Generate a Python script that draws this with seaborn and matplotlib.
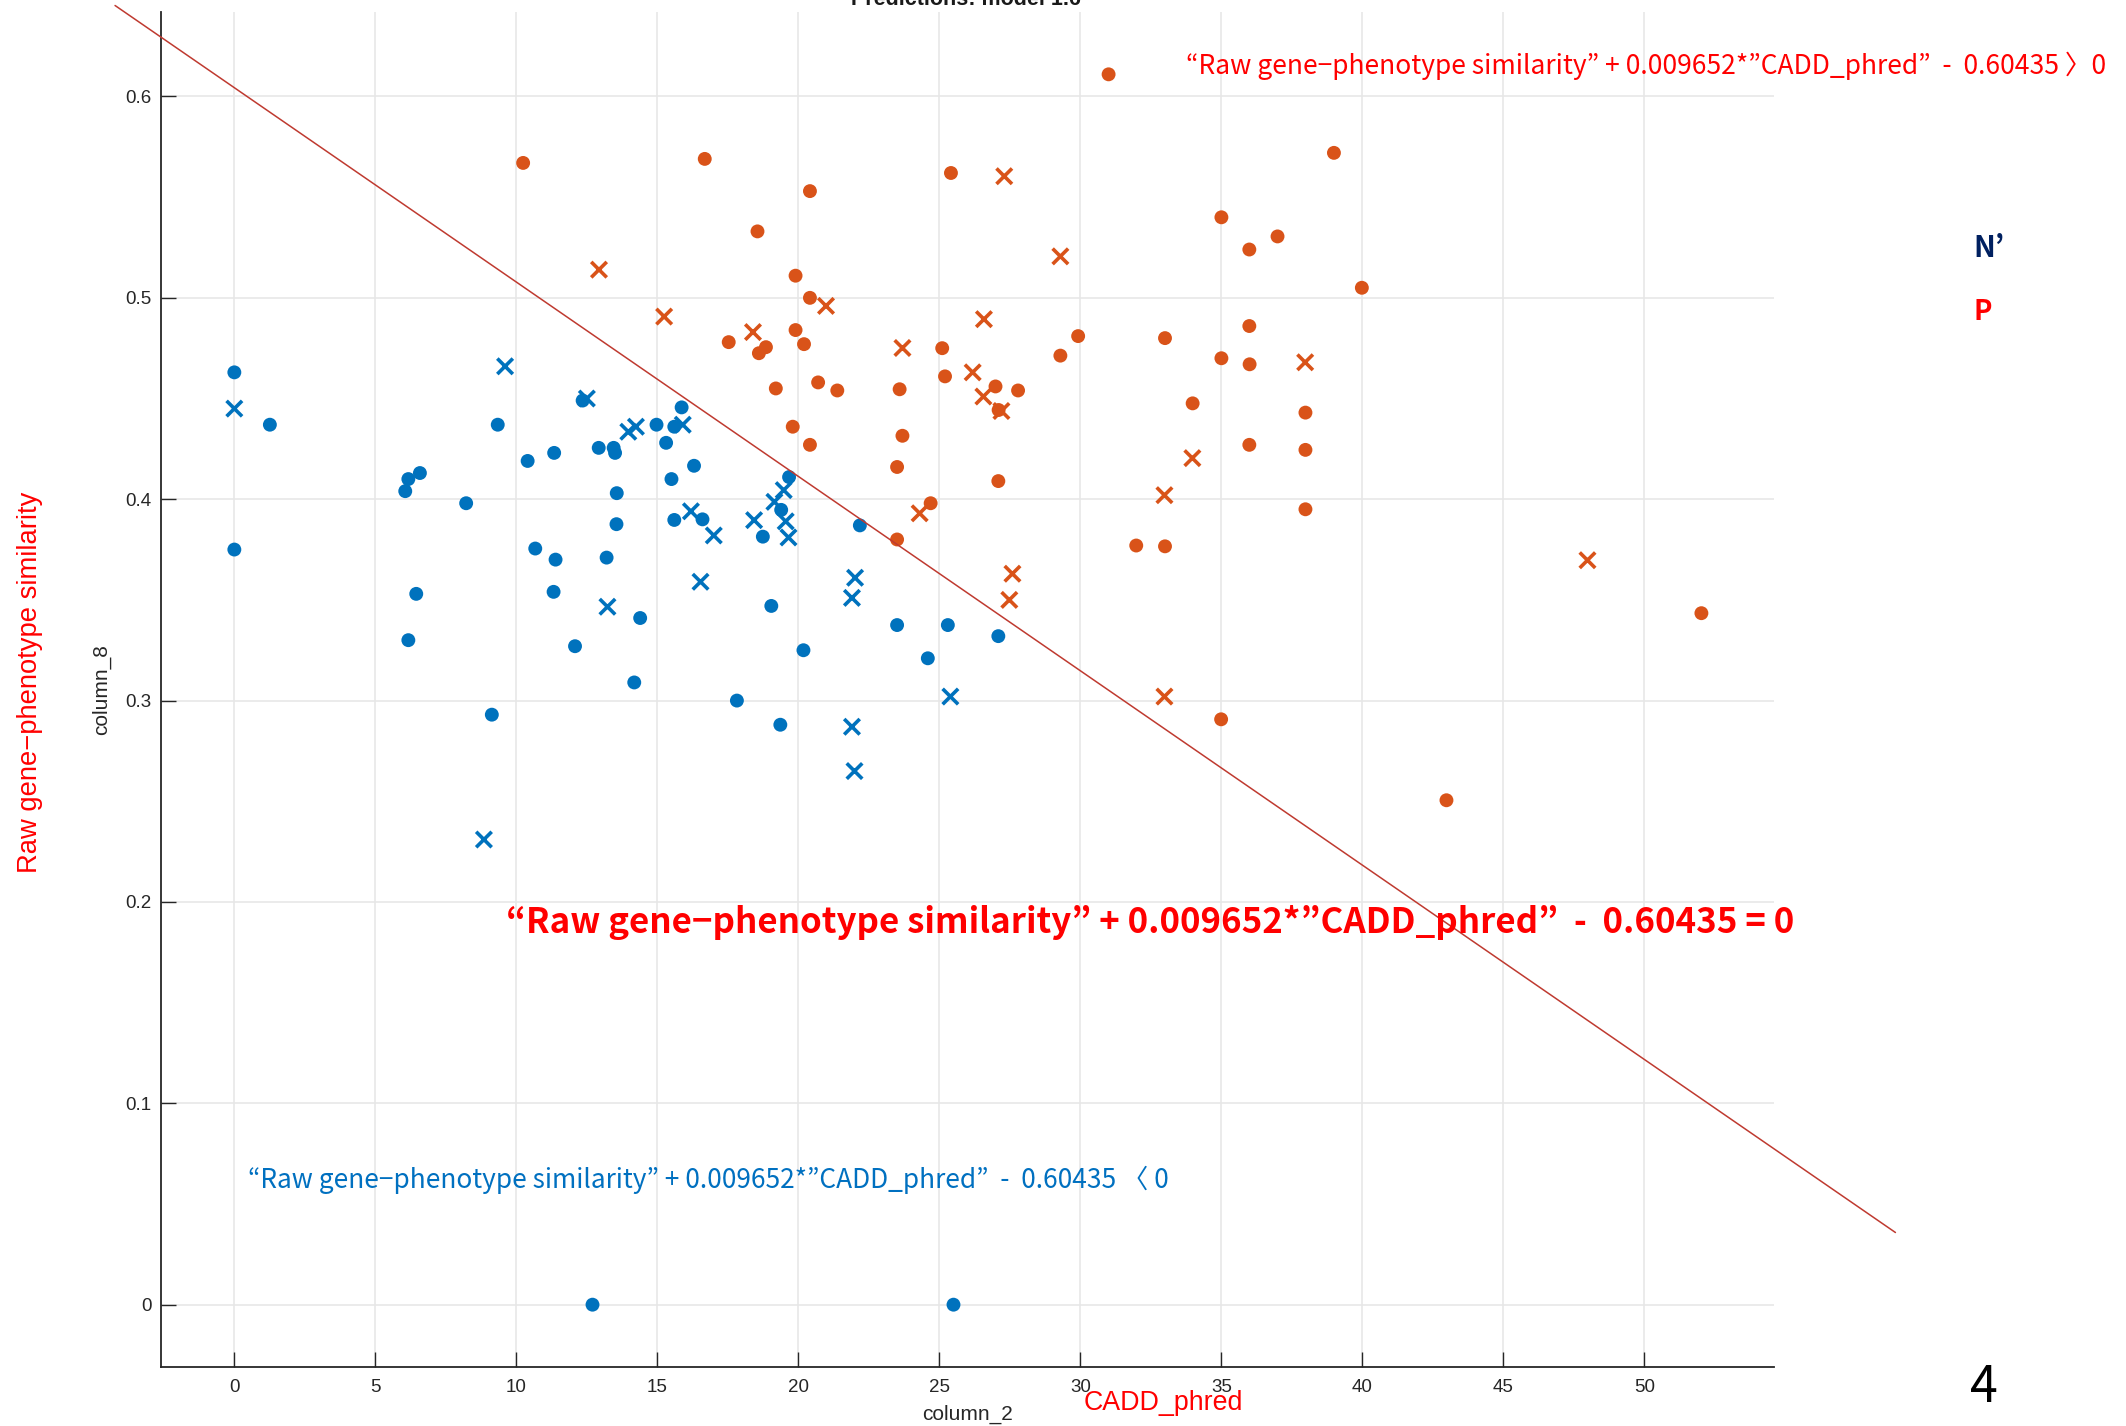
import numpy as np
import pandas as pd
import matplotlib
matplotlib.use("Agg")
import matplotlib.pyplot as plt
import seaborn as sns

# ---------------- data ----------------
# class N' (blue) - correctly predicted (dots)
n_ok_cadd = [0, 1.26, 9.34, 6.58, 6.17, 6.06, 8.22, 0, 10.4, 11.34, 12.35, 12.92, 13.45, 13.5,
             14.97, 15.6, 15.86, 15.31, 16.3, 15.5, 13.56, 13.55, 15.6, 16.6, 19.39, 19.67, 18.74,
             10.67, 11.39, 13.2, 11.32, 14.39, 19.04, 6.45, 6.17, 12.08, 20.18, 14.18, 17.82,
             19.36, 9.13, 22.18, 23.5, 25.3, 27.09, 24.59, 12.7, 25.5]
n_ok_sim = [0.463, 0.437, 0.437, 0.413, 0.410, 0.404, 0.398, 0.375, 0.419, 0.423, 0.449, 0.4255,
            0.4255, 0.423, 0.437, 0.436, 0.4456, 0.428, 0.4166, 0.410, 0.403, 0.3876, 0.3897,
            0.390, 0.3947, 0.411, 0.3814, 0.3755, 0.370, 0.371, 0.354, 0.341, 0.347, 0.353,
            0.330, 0.327, 0.325, 0.309, 0.300, 0.288, 0.293, 0.387, 0.3375, 0.3375, 0.332,
            0.321, 0.0, 0.0]
# class N' (blue) - incorrectly predicted (crosses)
n_bad_cadd = [0, 9.6, 12.5, 13.97, 14.24, 15.9, 16.19, 17.0, 18.43, 19.15, 19.48, 19.55, 19.65,
              13.23, 16.53, 8.85, 22.01, 21.9, 25.39, 21.9, 21.99]
n_bad_sim = [0.445, 0.466, 0.450, 0.4335, 0.436, 0.437, 0.394, 0.382, 0.3896, 0.3987, 0.4045,
             0.389, 0.381, 0.3466, 0.359, 0.231, 0.361, 0.351, 0.302, 0.287, 0.265]
# class P (orange) - correctly predicted (dots)
p_ok_cadd = [10.24, 16.68, 25.41, 20.41, 18.55, 19.9, 20.41, 19.9, 17.53, 18.85, 18.6, 20.2,
             25.1, 29.92, 29.29, 38.99, 35.0, 36.99, 35.99, 39.98, 35.99, 33.0, 35.0, 36.0,
             31.0, 19.2, 19.8, 20.7, 21.38, 23.59, 25.2, 26.99, 27.79, 27.1, 33.98, 37.98,
             20.41, 23.69, 23.5, 35.99, 37.98, 27.09, 24.69, 23.5, 37.98, 31.98, 33.0, 34.99,
             42.98, 52.02]
p_ok_sim = [0.567, 0.569, 0.562, 0.553, 0.533, 0.511, 0.500, 0.484, 0.478, 0.4755, 0.4725,
            0.477, 0.475, 0.481, 0.4713, 0.572, 0.540, 0.5305, 0.524, 0.505, 0.486, 0.480,
            0.470, 0.467, 0.611, 0.455, 0.436, 0.458, 0.454, 0.4546, 0.461, 0.456, 0.454,
            0.4443, 0.4476, 0.443, 0.427, 0.4315, 0.416, 0.427, 0.4245, 0.409, 0.398, 0.380,
            0.395, 0.377, 0.3766, 0.2907, 0.2505, 0.3434]
# class P (orange) - incorrectly predicted (crosses)
p_bad_cadd = [27.3, 12.93, 29.29, 20.98, 15.24, 26.58, 18.39, 23.69, 37.97, 26.18, 26.56, 27.2,
              33.97, 24.3, 32.98, 27.59, 27.48, 32.98, 47.98]
p_bad_sim = [0.5604, 0.514, 0.5206, 0.496, 0.4907, 0.4894, 0.483, 0.4751, 0.468, 0.463, 0.451,
             0.4438, 0.4204, 0.393, 0.402, 0.363, 0.350, 0.302, 0.3697]

# decision boundary: sim + slope*cadd - intercept = 0
bound_slope = 0.009652
bound_intercept = 0.60435
bound_cadd_ends = [-4.23, 58.9]

x_ticks = [0, 5, 10, 15, 20, 25, 30, 35, 40, 45, 50]
y_ticks = [0, 0.1, 0.2, 0.3, 0.4, 0.5, 0.6]
y_ticklabels = ["0", "0.1", "0.2", "0.3", "0.4", "0.5", "0.6"]

title = "Predictions: model 1.6"
eq_pos = "“Raw gene\u2212phenotype similarity” + 0.009652*”CADD_phred”  -  0.60435 \u30090"
eq_zero = "“Raw gene\u2212phenotype similarity” + 0.009652*”CADD_phred”  -  0.60435 = 0"
eq_neg = "“Raw gene\u2212phenotype similarity” + 0.009652*”CADD_phred”  -  0.60435 \u3008 0"

# ---------------- frame ----------------
def frame(cadd, sim, cls, res):
    return pd.DataFrame({"CADD": cadd, "sim": sim, "cls": cls, "res": res})

df = pd.concat([
    frame(n_ok_cadd, n_ok_sim, "N'", "ok"),
    frame(n_bad_cadd, n_bad_sim, "N'", "bad"),
    frame(p_ok_cadd, p_ok_sim, "P", "ok"),
    frame(p_bad_cadd, p_bad_sim, "P", "bad"),
], ignore_index=True)

palette = {"N'": "#0072BD", "P": "#D95319"}

sns.set_theme(style="white")
plt.rcParams["font.family"] = ["Liberation Sans", "DejaVu Sans"]
CJK = ["Noto Sans CJK KR", "DejaVu Sans"]

W, H = 2126, 1426
fig = plt.figure(figsize=(W / 100, H / 100), dpi=100)
ax = fig.add_axes([161.3 / W, 1 - 1366.5 / H, (1773.6 - 161.3) / W, (1366.5 - 12.3) / H])

sns.scatterplot(data=df[df.res == "ok"], x="CADD", y="sim", hue="cls", palette=palette,
                marker="o", s=100, edgecolor="none", legend=False, ax=ax, zorder=3)
sns.scatterplot(data=df[df.res == "bad"], x="CADD", y="sim", hue="cls", palette=palette,
                marker="x", s=125, linewidth=2.6, legend=False, ax=ax, zorder=3)

bx = np.array(bound_cadd_ends)
ax.plot(bx, bound_intercept - bound_slope * bx, color="#BF3A30", lw=1.1, clip_on=False, zorder=4)

ax.set_xlim(-2.59, 54.58)
ax.set_ylim(-0.0307, 0.6418)
ax.set_xticks(x_ticks)
ax.set_yticks(y_ticks)
ax.set_yticklabels(y_ticklabels)
ax.grid(True, color="#e6e6e6", lw=1.1)
ax.set_axisbelow(True)
for s in ["top", "right"]:
    ax.spines[s].set_visible(False)
for s in ["left", "bottom"]:
    ax.spines[s].set_color("#262626")
    ax.spines[s].set_linewidth(1.3)
ax.tick_params(direction="in", length=11, width=1.0, colors="#262626", labelsize=13.5,
               left=True, bottom=True)
ax.tick_params(axis="x", pad=9)
ax.tick_params(axis="y", pad=7)
ax.set_xlabel("column_2", fontsize=15, color="#262626", labelpad=6)
ax.set_ylabel("column_8", fontsize=15, color="#262626", labelpad=10)

def P(x, y):
    return x / W, 1 - y / H

fig.text(*P(966, 5), title, ha="center", va="baseline", fontsize=15.5, weight="bold", color="#1a1a1a")

t1 = fig.text(*P(1186, 66), eq_pos, ha="left", va="center", color="#FF0000", fontsize=20, family=CJK)
t2 = fig.text(*P(506, 922), eq_zero, ha="left", va="center", color="#FF0000", fontsize=28,
              weight="bold", family=CJK)
t3 = fig.text(*P(248, 1180), eq_neg, ha="left", va="center", color="#0070C0", fontsize=20, family=CJK)
t4 = fig.text(*P(30, 682), "Raw gene\u2212phenotype similarity", rotation=90, ha="center", va="center",
              color="#FF0000", fontsize=19)
t5 = fig.text(*P(1163, 1403), "CADD_phred", ha="center", va="center", color="#FF0000", fontsize=19)
fig.text(*P(1973, 248), "N\u2019", ha="left", va="center", color="#002060", fontsize=21, weight="bold",
         family=CJK)
fig.text(*P(1973, 312), "P", ha="left", va="center", color="#FF0000", fontsize=20, weight="bold",
         family=CJK)
fig.text(*P(1984, 1388), "4", ha="center", va="center", color="#000000", fontsize=36, family=CJK)

# fit text widths to the reference layout
fig.canvas.draw()
r = fig.canvas.get_renderer()
for t, target, dim in [(t1, 922, 0), (t2, 1291, 0), (t3, 922, 0), (t4, 382, 1), (t5, 159, 0)]:
    bb = t.get_window_extent(r)
    cur = bb.width if dim == 0 else bb.height
    t.set_fontsize(t.get_fontsize() * target / cur)

fig.savefig("out.png", dpi=100)
